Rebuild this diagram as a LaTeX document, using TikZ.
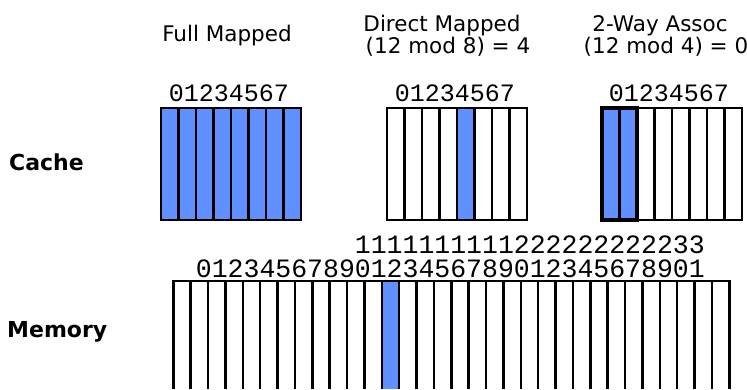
\documentclass[tikz,border=0pt]{standalone}
\usepackage{fontspec}
\setmainfont{DejaVu Sans}
\newfontfamily\digitfont{Liberation Mono}
\definecolor{cellblue}{RGB}{96,144,255}
\begin{document}
\begin{tikzpicture}[x=1pt,y=-1pt,line join=miter,
  grid/.style={line width=2.4pt,black},
  setbox/.style={line width=4pt,black},
  title/.style={anchor=base,inner sep=0pt,font=\fontsize{21.5}{24}\selectfont},
  side/.style={anchor=base west,inner sep=0pt,font=\fontsize{22}{26}\selectfont\bfseries},
  idx/.style={anchor=base,inner sep=0pt,font=\fontsize{25}{28}\digitfont},
  midx/.style={anchor=base east,inner sep=0pt,font=\fontsize{26.5}{28}\digitfont}]
\useasboundingbox (0,0) rectangle (747,389);

% titles
\node[title] (tfull) at (227,41.7) {Full Mapped};
\node[title] (tdir1) at (442,31.5) {Direct Mapped};
\node[title] (tdir2) at (448,53) {(12 mod 8) = 4};
\node[title] (tway1) at (660,31.5) {2-Way Assoc};
\node[title] (tway2) at (666,53) {(12 mod 4) = 0};

% side labels
\node[side] (lcache) at (9,170) {Cache};
\node[side] (lmem) at (7,337) {Memory};

% cache indices
\node[idx] (ifull) at (229,101.5) {01234567};
\node[idx] (idir) at (455,101.5) {01234567};
\node[idx] (iway) at (669,101.5) {01234567};

% Full mapped cache
\fill[cellblue] (161,108) rectangle (301,220);
\foreach \i in {1,...,7} \draw[grid] ({161+17.5*\i},108) -- ({161+17.5*\i},220);
\draw[grid] (161,108) rectangle (301,220);

% Direct mapped cache
\fill[cellblue] (457,108) rectangle (474.5,220);
\foreach \i in {1,...,7} \draw[grid] ({387+17.5*\i},108) -- ({387+17.5*\i},220);
\draw[grid] (387,108) rectangle (527,220);

% 2-way cache
\fill[cellblue] (602,108) rectangle (637,220);
\foreach \i in {1,...,7} \draw[grid] ({602+17.5*\i},108) -- ({602+17.5*\i},220);
\draw[grid] (602,108) rectangle (742,220);
\draw[setbox] (602,108) rectangle (637,220);

% memory indices
\node[midx] (mtop) at (705,253.5) {1111111111222222222233};
\node[midx] (mbot) at (705,277.5) {01234567890123456789012345678901};

% memory
\fill[cellblue] ({173.3+17.375*12},281) rectangle ({173.3+17.375*13},389);
\foreach \i in {0,...,32} \draw[grid] ({173.3+17.375*\i},281) -- ({173.3+17.375*\i},389);
\draw[grid] (172.1,281) -- (730.5,281);
\end{tikzpicture}
\end{document}
